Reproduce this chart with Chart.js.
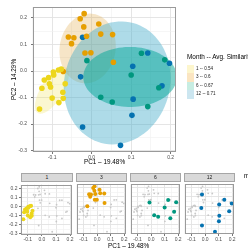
<!DOCTYPE html>
<html>
<head>
<meta charset="utf-8">
<script src="https://cdn.jsdelivr.net/npm/chart.js@4.4.1/dist/chart.umd.min.js"></script>
<style>
  html, body { margin: 0; padding: 0; background: #fff; }
  body { width: 248px; height: 251px; overflow: hidden; position: relative; font-family: "Liberation Sans", Arial, sans-serif; }
  canvas { position: absolute; }
  .txt { position: absolute; white-space: nowrap; line-height: 1; }
  .strip { position: absolute; box-sizing: border-box; border: 1px solid #a6a6a6; background: #d9d9d9; font-size: 5px; color: #1a1a1a; text-align: center; line-height: 7px; }
  .key { position: absolute; width: 7px; height: 8.5px; }
</style>
</head>
<body>
<canvas id="main" width="180" height="168" style="left:0;top:0"></canvas>
<canvas id="facet0" width="76" height="64" style="left:0;top:180px"></canvas>
<canvas id="facet1" width="57" height="64" style="left:73px;top:180px"></canvas>
<canvas id="facet2" width="57" height="64" style="left:127px;top:180px"></canvas>
<canvas id="facet3" width="57" height="64" style="left:181px;top:180px"></canvas>
<div id="overlay"></div>
<script>
// months and legend text
const months = ['1', '3', '6', '12'];
const legendLabels = ['1 -- 0.54', '3 -- 0.6', '6 -- 0.67', '12 -- 0.71'];

// PCoA scores
const pc1Month1 = [-0.132, -0.126, -0.120, -0.109, -0.107, -0.104, -0.097, -0.096, -0.084, -0.077, -0.100, -0.073, -0.072, -0.083, -0.067];
const pc2Month1 = [-0.143, -0.065, -0.034, -0.025, -0.048, -0.060, -0.004, -0.015, 0.004, 0.007, -0.102, -0.080, -0.103, -0.119, -0.048];
const pc1Month3 = [-0.019, -0.029, -0.020, 0.018, -0.059, -0.045, -0.013, -0.051, 0.023, 0.053, -0.017, -0.002, 0.055, -0.072];
const pc2Month3 = [0.216, 0.197, 0.166, 0.177, 0.128, 0.125, 0.131, 0.103, 0.139, 0.137, 0.068, 0.069, 0.033, -0.002];
const pc1Month6 = [-0.012, 0.126, 0.185, 0.100, 0.170, 0.023, 0.052, 0.142];
const pc2Month6 = [0.039, 0.067, 0.042, -0.015, -0.063, -0.099, -0.117, -0.134];
const pc1Month12 = [-0.023, 0.142, 0.197, 0.104, -0.028, 0.178, 0.105, 0.102, -0.023, 0.073];
const pc2Month12 = [0.127, 0.068, 0.029, 0.018, -0.022, -0.056, -0.106, -0.167, -0.211, -0.280];

const pc1 = [pc1Month1, pc1Month3, pc1Month6, pc1Month12];
const pc2 = [pc2Month1, pc2Month3, pc2Month6, pc2Month12];

// ellipses (stat_ellipse), centre + two half axes in PC units
const ellipseCentre = [[-0.1006, -0.0725], [-0.0103, 0.085], [0.0973, -0.0224], [0.0645, -0.045]];
const ellipseAxisA = [[0.036, 0.0855], [0.0154, 0.130], [0.1185, 0], [0.0403, 0.2257]];
const ellipseAxisB = [[0.0234, -0.0222], [0.0696, -0.0185], [0, 0.113], [0.129, -0.0516]];

const xTicks = [-0.1, 0, 0.1, 0.2];
const yTicks = [-0.3, -0.2, -0.1, 0, 0.1, 0.2];
const xMinor = [-0.15, -0.05, 0.05, 0.15];
const yMinor = [-0.25, -0.15, -0.05, 0.05, 0.15];

const pointColors = ['#ecd61c', '#e69f00', '#00977f', '#0572b0'];
const ellipseFills = ['rgba(242,228,90,0.28)', 'rgba(226,170,70,0.3)', 'rgba(0,165,150,0.5)', 'rgba(63,169,201,0.42)'];
const ellipseOrder = [0, 1, 3, 2];
const keyColors = ['#fdf6cd', '#fbe5c1', '#c7ede2', '#cce6f0'];

const xRange = [-0.1485, 0.2135];
const yRange = [-0.305, 0.241];

const isMajor = v => Math.abs(v * 10 - Math.round(v * 10)) < 1e-6;

const ellipsePlugin = {
  id: 'ellipses',
  beforeDatasetsDraw(chart) {
    const { ctx, chartArea, scales: { x, y } } = chart;
    ctx.save();
    ctx.beginPath();
    ctx.rect(chartArea.left, chartArea.top, chartArea.width, chartArea.height);
    ctx.clip();
    ellipseOrder.forEach(i => {
      const [cx, cy] = ellipseCentre[i];
      const [ax, ay] = ellipseAxisA[i];
      const [bx, by] = ellipseAxisB[i];
      ctx.beginPath();
      for (let k = 0; k <= 90; k++) {
        const t = k / 90 * Math.PI * 2;
        const px = x.getPixelForValue(cx + ax * Math.cos(t) + bx * Math.sin(t));
        const py = y.getPixelForValue(cy + ay * Math.cos(t) + by * Math.sin(t));
        if (k === 0) ctx.moveTo(px, py); else ctx.lineTo(px, py);
      }
      ctx.closePath();
      ctx.fillStyle = ellipseFills[i];
      ctx.fill();
    });
    ctx.restore();
  }
};

const borderPlugin = {
  id: 'panelBorder',
  afterDraw(chart) {
    const { ctx, chartArea: a } = chart;
    ctx.save();
    ctx.strokeStyle = '#9a9a9a';
    ctx.lineWidth = 1;
    ctx.strokeRect(Math.round(a.left) + 0.5, Math.round(a.top) + 0.5, Math.round(a.width) - 1, Math.round(a.height) - 1);
    ctx.restore();
  }
};

function axis(range, major, minor, opts) {
  return {
    type: 'linear',
    min: range[0],
    max: range[1],
    afterBuildTicks: s => { s.ticks = major.concat(minor).map(v => ({ value: v })); },
    afterFit: opts.fit,
    border: { display: false },
    grid: {
      color: c => (c.tick && isMajor(c.tick.value)) ? '#e2e2e2' : '#f0f0f0',
      lineWidth: c => (c.tick && isMajor(c.tick.value)) ? 0.9 : 0.6,
      drawTicks: opts.ticks,
      tickLength: 2,
      tickWidth: 0.8,
      tickColor: c => (c.tick && isMajor(c.tick.value)) ? '#555' : 'rgba(0,0,0,0)'
    },
    ticks: {
      display: opts.ticks,
      autoSkip: false,
      maxRotation: 0,
      padding: opts.pad,
      color: '#4d4d4d',
      font: { size: 5, family: 'Liberation Sans' },
      callback: v => isMajor(v) ? v.toFixed(1) : ''
    },
    title: opts.title || { display: false }
  };
}

// main ordination plot
new Chart(document.getElementById('main'), {
  type: 'scatter',
  data: {
    datasets: months.map((m, i) => ({
      label: m,
      data: pc1[i].map((v, j) => ({ x: v, y: pc2[i][j] })),
      backgroundColor: pointColors[i],
      borderWidth: 0,
      pointRadius: 2.8
    }))
  },
  options: {
    responsive: false,
    animation: false,
    events: [],
    layout: { padding: { top: 6, right: 3, left: 0, bottom: 0 } },
    plugins: { legend: { display: false }, tooltip: { enabled: false } },
    scales: {
      x: axis(xRange, xTicks, xMinor, {
        fit: s => { s.height = 16; }, ticks: true, pad: 0.5,
        title: { display: true, text: 'PC1 – 19.48%', color: '#000', font: { size: 6.4, family: 'Liberation Sans' }, padding: { top: 0, bottom: 2.2 } }
      }),
      y: axis(yRange, yTicks, yMinor, {
        fit: s => { s.width = 33; }, ticks: true, pad: 4,
        title: { display: true, text: 'PC2 – 14.29%', color: '#000', font: { size: 6.4, family: 'Liberation Sans' }, padding: { top: 10.7, bottom: 0 } }
      })
    }
  },
  plugins: [ellipsePlugin, borderPlugin]
});

// facets: all samples in grey, the month in colour
months.forEach((m, i) => {
  const first = i === 0;
  const grey = [];
  pc1.forEach((arr, k) => arr.forEach((v, j) => grey.push({ x: v, y: pc2[k][j] })));
  new Chart(document.getElementById('facet' + i), {
    type: 'scatter',
    data: {
      datasets: [
        { data: pc1[i].map((v, j) => ({ x: v, y: pc2[i][j] })), backgroundColor: pointColors[i], borderWidth: 0, pointRadius: 2 },
        { data: grey, backgroundColor: '#c8c8c8', borderWidth: 0, pointRadius: 0.9 }
      ]
    },
    options: {
      responsive: false,
      animation: false,
      events: [],
      layout: { padding: { top: 2, right: 3, left: first ? 0 : 3, bottom: 0 } },
      plugins: { legend: { display: false }, tooltip: { enabled: false } },
      scales: {
        x: axis(xRange, xTicks, xMinor, { fit: s => { s.height = 10; }, ticks: true, pad: 0.5 }),
        y: axis(yRange, yTicks, yMinor, { fit: s => { s.width = first ? 21 : 0; }, ticks: first, pad: 1.5 })
      }
    },
    plugins: [borderPlugin]
  });
});

// legend, strips and shared texts
const overlay = document.getElementById('overlay');
function addText(text, left, top, size, cls, extra) {
  const d = document.createElement('div');
  d.className = cls || 'txt';
  d.textContent = text;
  d.style.left = left + 'px';
  d.style.top = top + 'px';
  if (size) d.style.fontSize = size + 'px';
  Object.assign(d.style, extra || {});
  overlay.appendChild(d);
  return d;
}
addText('Month -- Avg. Similarity', 187, 53.5, 6.4);
legendLabels.forEach((lab, i) => {
  const k = document.createElement('div');
  k.className = 'key';
  k.style.left = '187px';
  k.style.top = (64.5 + i * 8.5) + 'px';
  k.style.background = keyColors[i];
  overlay.appendChild(k);
  addText(lab, 196, 66.5 + i * 8.5, 4.6, 'txt', { color: '#1a1a1a' });
});
const panelLefts = [21, 76, 130, 184];
months.forEach((m, i) => {
  addText(m, panelLefts[i], 173, null, 'strip', { width: (i === 0 ? 52 : 51) + 'px', height: '9px' });
});
addText('PC1 – 19.48%', 108, 242.5, 6.4);
addText('month', 244, 173, 6.4);
</script>
</body>
</html>
